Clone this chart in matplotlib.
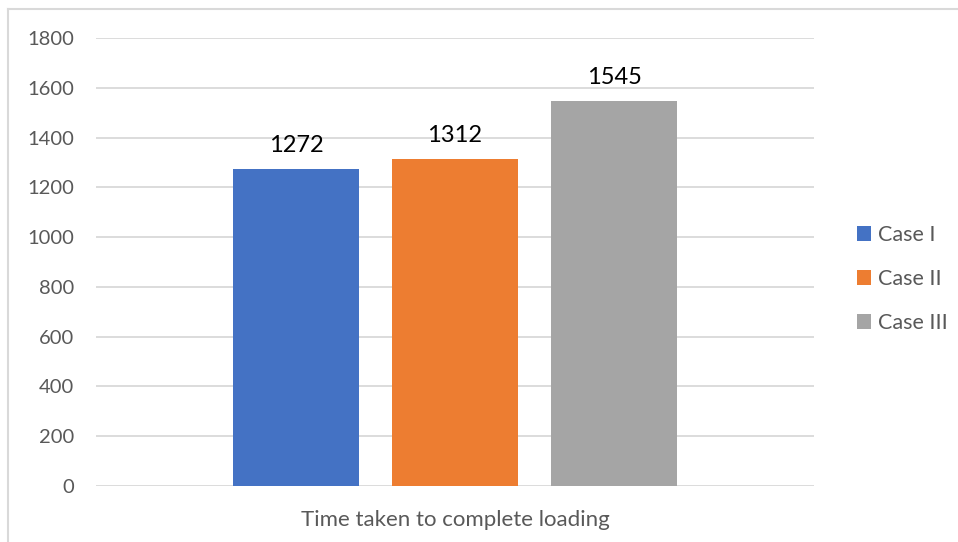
import numpy as np
import matplotlib
import matplotlib.pyplot as plt
from matplotlib.lines import Line2D

matplotlib.rcParams['font.family'] = 'Lato'

cases = ['Case I', 'Case II', 'Case III']
load_times = [1272, 1312, 1545]
colors = ['#4472C4', '#ED7D31', '#A5A5A5']
category = 'Time taken to complete loading'
y_ticks = [0, 200, 400, 600, 800, 1000, 1200, 1400, 1600, 1800]

text_grey = '#595959'
grid_grey = '#D9D9D9'

fig = plt.figure(figsize=(9.58, 5.42), dpi=100)
ax = fig.add_axes([0.1002, 0.1033, 0.7495, 0.8266])

bar_w = 0.1755
offsets = np.array([-1, 0, 1]) * 0.2214
bars = []
for off, val, col, name in zip(offsets, load_times, colors, cases):
    b = ax.bar(off, val, width=bar_w, color=col, label=name, zorder=3)
    bars.append(b)
    ax.text(off, val + 55, str(val), ha='center', va='bottom',
            fontsize=17, color='black', zorder=4)

ax.set_xlim(-0.5, 0.5)
ax.set_ylim(0, 1800)
ax.set_yticks(y_ticks)
ax.set_yticklabels([str(t) for t in y_ticks], fontsize=14.5, color=text_grey)
ax.set_xticks([0])
ax.set_xticklabels([category], fontsize=16, color=text_grey)
ax.tick_params(axis='both', length=0)
ax.tick_params(axis='y', pad=16)
ax.tick_params(axis='x', pad=17)
ax.yaxis.grid(True, color=grid_grey, linewidth=1.3, zorder=0)
for s in ax.spines.values():
    s.set_visible(False)

leg = fig.legend(handles=[b[0] for b in bars], labels=cases,
                 loc='center left', bbox_to_anchor=(0.874, 0.485),
                 frameon=False, fontsize=15.5, handlelength=0.65,
                 handleheight=0.65, handletextpad=0.35, labelspacing=1.12)
for t in leg.get_texts():
    t.set_color(text_grey)

# chart border
fig.add_artist(Line2D([7.5 / 958, 1], [1 - 8.5 / 542, 1 - 8.5 / 542],
                      transform=fig.transFigure, color=grid_grey, lw=1.5))
fig.add_artist(Line2D([7.5 / 958, 7.5 / 958], [0, 1 - 8.5 / 542],
                      transform=fig.transFigure, color=grid_grey, lw=1.5))

plt.savefig('out.png', dpi=100)
